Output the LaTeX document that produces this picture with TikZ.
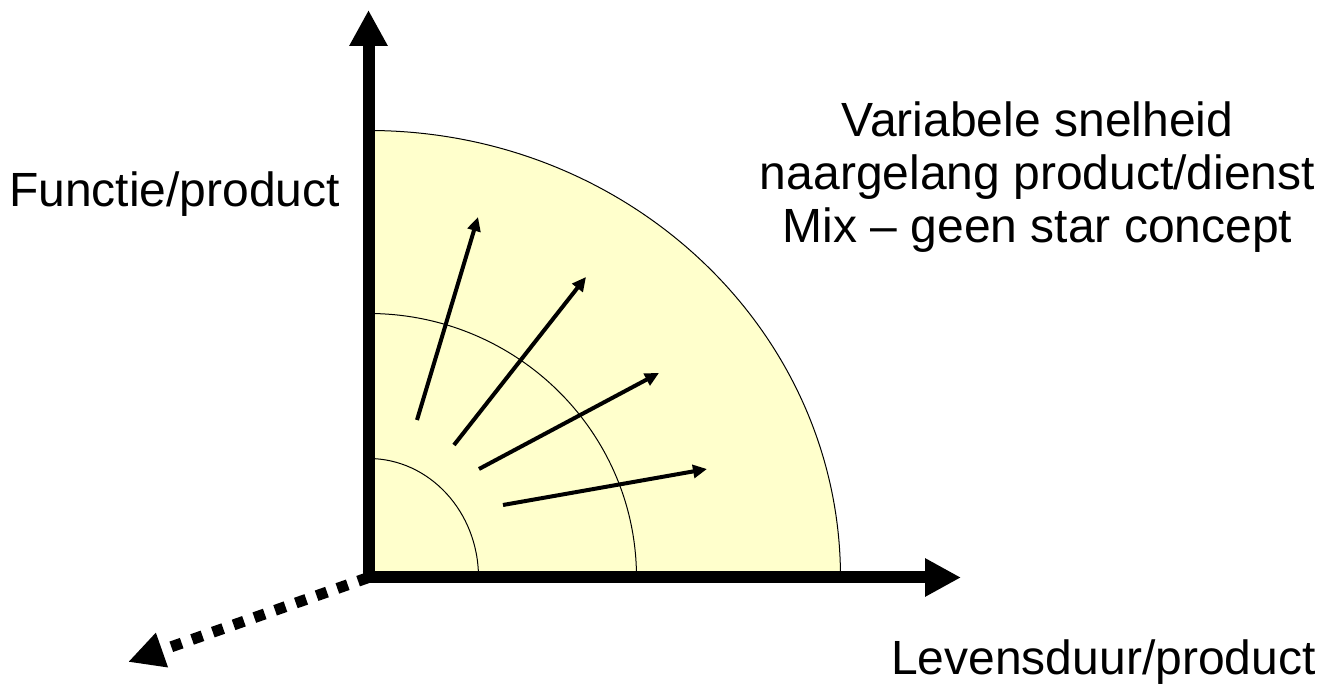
\documentclass[tikz,border=0pt]{standalone}
\usepackage{fontspec}
\setmainfont{Liberation Sans}
\usetikzlibrary{arrows.meta}
\definecolor{quadfill}{RGB}{255,255,204}
\tikzset{
  axis/.style={line width=12pt, -{Triangle[length=36pt,width=36pt]}},
  depthaxis/.style={line width=11pt, dash pattern=on 11pt off 11pt, -{Triangle[length=36pt,width=34pt]}},
  ray/.style={line width=4pt, -{Triangle[length=14pt,width=13pt]}},
  ring/.style={line width=1pt, draw=black},
  label/.style={inner sep=0pt, font=\fontsize{48}{53}\selectfont, text=black}
}
\begin{document}
\begin{tikzpicture}[x=1pt,y=1pt]
\useasboundingbox (0,0) rectangle (1337,684);
\coordinate (O) at (368.5,106.5);
\coordinate (Ytip) at (368.5,674);
\coordinate (Xtip) at (961,106.5);
\coordinate (Ztip) at (128,22);
% filled quarter
\fill[quadfill] (O) -- (368.5,553.5) arc[start angle=90,end angle=0,x radius=472,y radius=447] -- cycle;
\draw[ring] (368.5,553.5) arc[start angle=90,end angle=0,x radius=472,y radius=447];
\draw[ring] (368.5,370.5) arc[start angle=90,end angle=0,x radius=268,y radius=264];
\draw[ring] (368.5,225.5) arc[start angle=90,end angle=0,x radius=110,y radius=119];
% rays
\coordinate (r1s) at (417,264); \coordinate (r1e) at (478,467);
\coordinate (r2s) at (454,239); \coordinate (r2e) at (586,407);
\coordinate (r3s) at (479,215); \coordinate (r3e) at (659,311);
\coordinate (r4s) at (503,179); \coordinate (r4e) at (707,215);
\draw[ray] (r1s) -- (r1e);
\draw[ray] (r2s) -- (r2e);
\draw[ray] (r3s) -- (r3e);
\draw[ray] (r4s) -- (r4e);
% axes
\draw[depthaxis] (O) -- (Ztip);
\draw[axis] ([yshift=-6pt]O) -- (Ytip);
\draw[axis] ([xshift=-6pt]O) -- (Xtip);
% labels
\node[label, anchor=base west] (fp) at (9,477) {Functie/product};
\node[label, anchor=base] (t1) at (1037.5,547) {Variabele snelheid};
\node[label, anchor=base] (t2) at (1037.5,494) {naargelang product/dienst};
\node[label, anchor=base] (t3) at (1037.5,441) {Mix – geen star concept};
\node[label, anchor=base west] (lp) at (891,9) {Levensduur/product};
\end{tikzpicture}
\end{document}
